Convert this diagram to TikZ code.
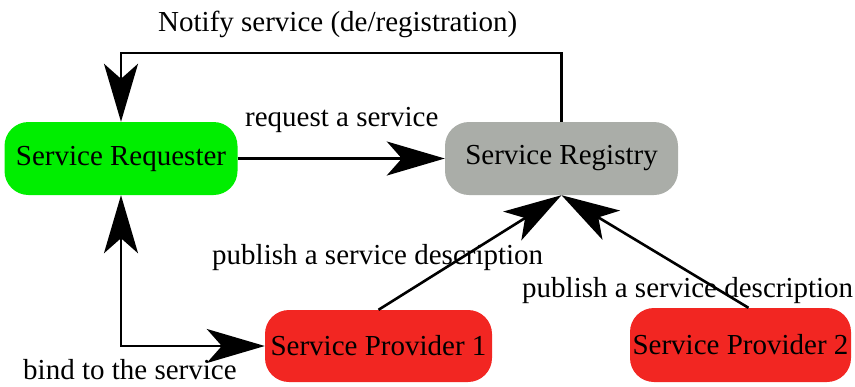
\documentclass[tikz,border=0pt]{standalone}
\usepackage{fontspec}
\setmainfont{Liberation Serif}
\usetikzlibrary{arrows.meta}
\definecolor{reqgreen}{RGB}{0,238,0}
\definecolor{reggray}{RGB}{170,173,168}
\definecolor{provred}{RGB}{242,38,34}
\tikzset{
  svc/.style={rounded corners=24pt, minimum height=73pt, inner sep=0pt,
    font=\fontsize{29}{34}\selectfont},
  lbl/.style={anchor=base west, inner sep=0pt, font=\fontsize{29}{34}\selectfont},
  conn/.style={line width=2.6pt, -{Stealth[length=58pt, width=34pt, inset=15pt]}},
  conn2/.style={line width=2.6pt,
    {Stealth[length=58pt, width=34pt, inset=15pt]}-{Stealth[length=58pt, width=34pt, inset=15pt]}}
}
\begin{document}
\begin{tikzpicture}[x=1pt, y=-1pt]
\useasboundingbox (0,0) rectangle (855,386);

% services
\node[svc, fill=reqgreen, minimum width=233pt] (req) at (121,158.5) {Service Requester};
\node[svc, fill=reggray, minimum width=233pt] (reg) at (561.5,158.5) {Service Registry};
\node[svc, fill=provred, minimum width=227pt, minimum height=72pt] (p1) at (378.5,346) {Service Provider 1};
\node[svc, fill=provred, minimum width=221pt, minimum height=74pt] (p2) at (740.5,345) {Service Provider 2};

% connectors
\coordinate (topline) at (0,53);
\draw[conn] (reg.north) -- (reg.north |- topline) -| (req.north);
\draw[conn] (req.east) -- (reg.west);
\draw[conn] (p1.north) -- (reg.south);
\draw[conn] ([xshift=8pt]p2.north) -- (reg.south);
\draw[conn2] (req.south) |- (p1.west);

% labels
\node[lbl] (lnotify) at (158,31) {Notify service (de/registration)};
\node[lbl] (lreq) at (245,126) {request a service};
\node[lbl] (lpub1) at (212,264) {publish a service description};
\node[lbl] (lpub2) at (522,297) {publish a service description};
\node[lbl] (lbind) at (23,379) {bind to the service};
\end{tikzpicture}
\end{document}
